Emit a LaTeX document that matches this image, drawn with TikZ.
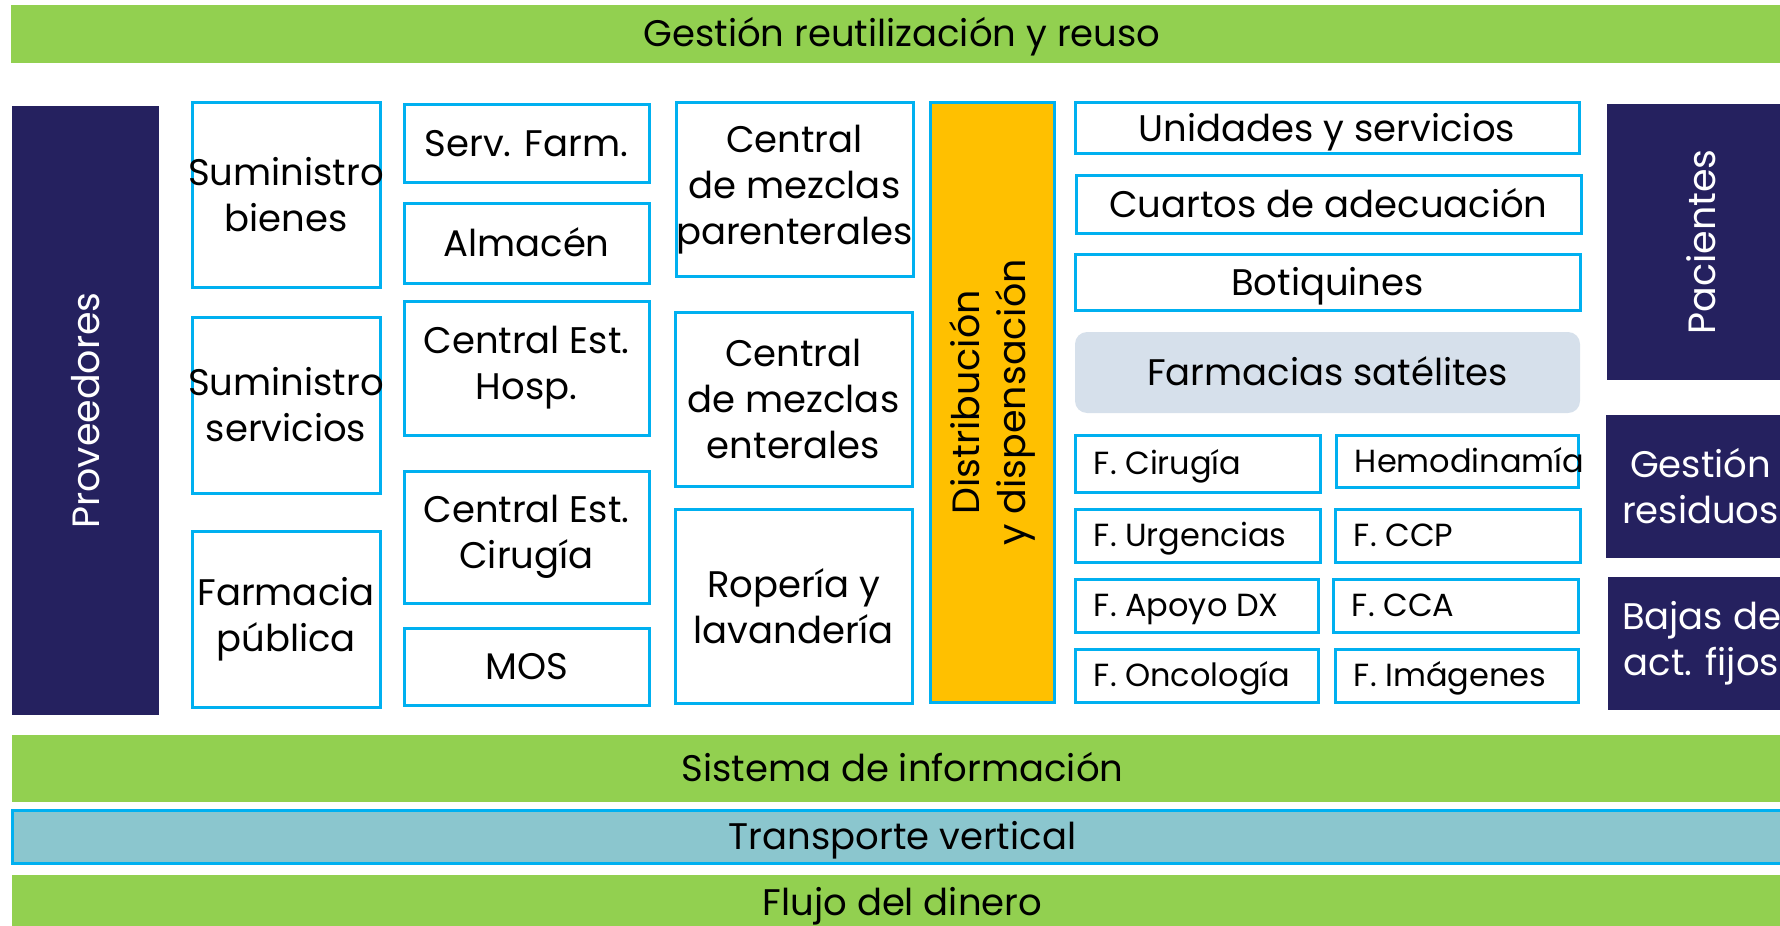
\documentclass[tikz,border=0pt]{standalone}
\usepackage{fontspec}
\setmainfont{Poppins}
\usetikzlibrary{fit}

\definecolor{barGreen}{HTML}{92D050}
\definecolor{navyBlue}{HTML}{25215F}
\definecolor{cyanLine}{HTML}{00B0F0}
\definecolor{distOrange}{HTML}{FFC000}
\definecolor{satBlue}{HTML}{D6E0EB}
\definecolor{transTeal}{HTML}{8BC6CE}

\tikzset{
  unitbox/.style={draw=cyanLine, line width=1.5pt, fill=white, inner sep=0pt},
  navybox/.style={fill=navyBlue, draw=none, inner sep=0pt},
  bandbar/.style={fill=barGreen, draw=none, inner sep=0pt},
  boxtext/.style={align=center, inner sep=0pt, font=\fontsize{18.5}{23}\selectfont},
  linetext/.style={boxtext, text height=13pt, text depth=0pt},
  sattext/.style={anchor=west, inner sep=0pt, text height=11.2pt, text depth=0pt, font=\fontsize{16}{19}\selectfont},
  sidetext/.style={boxtext, rotate=90, font=\fontsize{19}{23}\selectfont},
}

\begin{document}
\begin{tikzpicture}[x=0.5pt,y=0.5pt,yscale=-1,xscale=1]
    \useasboundingbox (0,0) rectangle (1780,925);
    \clip (0,0) rectangle (1780,925);

    %Bands [top and bottom]
    \node[bandbar, fit={(11,5) (1793,63)}] (reuso) {};
    \node[linetext] (reusoLbl) at (reuso.center) {Gestión reutilización y reuso};
    \node[bandbar, fit={(12,735) (1793,802)}] (sisInfo) {};
    \node[linetext] (sisInfoLbl) at (sisInfo.center) {Sistema de información};
    \node[bandbar, fill=transTeal, draw=cyanLine, line width=1.5pt, fit={(12,810) (1793,863)}] (transp) {};
    \node[linetext] (transpLbl) at (transp.center) {Transporte vertical};
    \node[bandbar, fit={(12,875) (1793,930)}] (dinero) {};
    \node[linetext] (dineroLbl) at (dinero.center) {Flujo del dinero};

    %Shape: Proveedores
    \node[navybox, fit={(12,106) (159,715)}] (prov) {};
    \node[sidetext, text=white] (provLbl) at (prov.center) {Proveedores};

    %First column
    \node[unitbox, fit={(192,103) (380,287)}] (sumBienes) {};
    \node[boxtext] (sumBienesLbl) at (sumBienes.center) {Suministro\\bienes};
    \node[unitbox, fit={(192,317) (380,493)}] (sumServ) {};
    \node[boxtext] (sumServLbl) at (sumServ.center) {Suministro\\servicios};
    \node[unitbox, fit={(192,531) (380,707)}] (farmPub) {};
    \node[boxtext] (farmPubLbl) at (farmPub.center) {Farmacia\\pública};

    %Second column
    \node[unitbox, fit={(404,105) (649,183)}] (servFarm) {};
    \node[linetext] (servFarmLbl) at (servFarm.center) {Serv. Farm.};
    \node[unitbox, fit={(404,204) (649,283)}] (almacen) {};
    \node[linetext] (almacenLbl) at (almacen.center) {Almacén};
    \node[unitbox, fit={(404,301) (649,435)}] (ceHosp) {};
    \node[boxtext] (ceHospLbl) at (ceHosp.center) {Central Est.\\Hosp.};
    \node[unitbox, fit={(404,471) (649,603)}] (ceCir) {};
    \node[boxtext] (ceCirLbl) at (ceCir.center) {Central Est.\\Cirugía};
    \node[unitbox, fit={(404,628) (649,705)}] (mos) {};
    \node[linetext] (mosLbl) at (mos.center) {MOS};

    %Third column
    \node[unitbox, fit={(676,103) (913,276)}] (mezParent) {};
    \node[boxtext] (mezParentLbl) at (mezParent.center) {Central\\de mezclas\\parenterales};
    \node[unitbox, fit={(675,312) (912,486)}] (mezEnter) {};
    \node[boxtext] (mezEnterLbl) at (mezEnter.center) {Central\\de mezclas\\enterales};
    \node[unitbox, fit={(675,509) (912,703)}] (ropa) {};
    \node[boxtext] (ropaLbl) at (ropa.center) {Ropería y\\lavandería};

    %Distribucion
    \node[unitbox, fill=distOrange, fit={(930,103) (1054,702)}] (distrib) {};
    \node[sidetext] (distribLbl) at (distrib.center) {Distribución\\y dispensación};

    %Right block
    \node[unitbox, fit={(1075,103) (1579,154)}] (unidades) {};
    \node[linetext] (unidadesLbl) at (unidades.center) {Unidades y servicios};
    \node[unitbox, fit={(1076,176) (1581,233)}] (cuartos) {};
    \node[linetext] (cuartosLbl) at (cuartos.center) {Cuartos de adecuación};
    \node[unitbox, fit={(1075,254) (1580,310)}] (botiq) {};
    \node[linetext] (botiqLbl) at (botiq.center) {Botiquines};
    \node[unitbox, draw=none, fill=satBlue, rounded corners=6pt, fit={(1075,332) (1580,413)}] (satel) {};
    \node[linetext] (satelLbl) at (satel.center) {Farmacias satélites};

    % Satellite pharmacies
    \node[unitbox, fit={(1075,435) (1320,492)}] (fCir) {};
    \node[sattext] (fCirLbl) at ([xshift=10pt]fCir.west) {F. Cirugía};
    \node[unitbox, fit={(1336,435) (1578,487)}] (fHemo) {};
    \node[sattext] (fHemoLbl) at ([xshift=10pt]fHemo.west) {Hemodinamía};
    \node[unitbox, fit={(1075,509) (1320,562)}] (fUrg) {};
    \node[sattext] (fUrgLbl) at ([xshift=10pt]fUrg.west) {F. Urgencias};
    \node[unitbox, fit={(1335,509) (1580,562)}] (fCcp) {};
    \node[sattext] (fCcpLbl) at ([xshift=10pt]fCcp.west) {F. CCP};
    \node[unitbox, fit={(1075,579) (1318,632)}] (fApoyo) {};
    \node[sattext] (fApoyoLbl) at ([xshift=10pt]fApoyo.west) {F. Apoyo DX};
    \node[unitbox, fit={(1333,579) (1578,632)}] (fCca) {};
    \node[sattext] (fCcaLbl) at ([xshift=10pt]fCca.west) {F. CCA};
    \node[unitbox, fit={(1075,649) (1318,702)}] (fOnco) {};
    \node[sattext] (fOncoLbl) at ([xshift=10pt]fOnco.west) {F. Oncología};
    \node[unitbox, fit={(1335,649) (1578,702)}] (fImag) {};
    \node[sattext] (fImagLbl) at ([xshift=10pt]fImag.west) {F. Imágenes};

    %Right navy boxes
    \node[navybox, fit={(1607,104) (1795,380)}] (pac) {};
    \node[sidetext, text=white] (pacLbl) at (pac.center) {Pacientes};
    \node[navybox, fit={(1606,415) (1795,558)}] (residuos) {};
    \node[boxtext, text=white] (residuosLbl) at (residuos.center) {Gestión\\residuos};
    \node[navybox, fit={(1608,577) (1795,710)}] (bajas) {};
    \node[boxtext, text=white] (bajasLbl) at (bajas.center) {Bajas de\\act. fijos};

\end{tikzpicture}
\end{document}
